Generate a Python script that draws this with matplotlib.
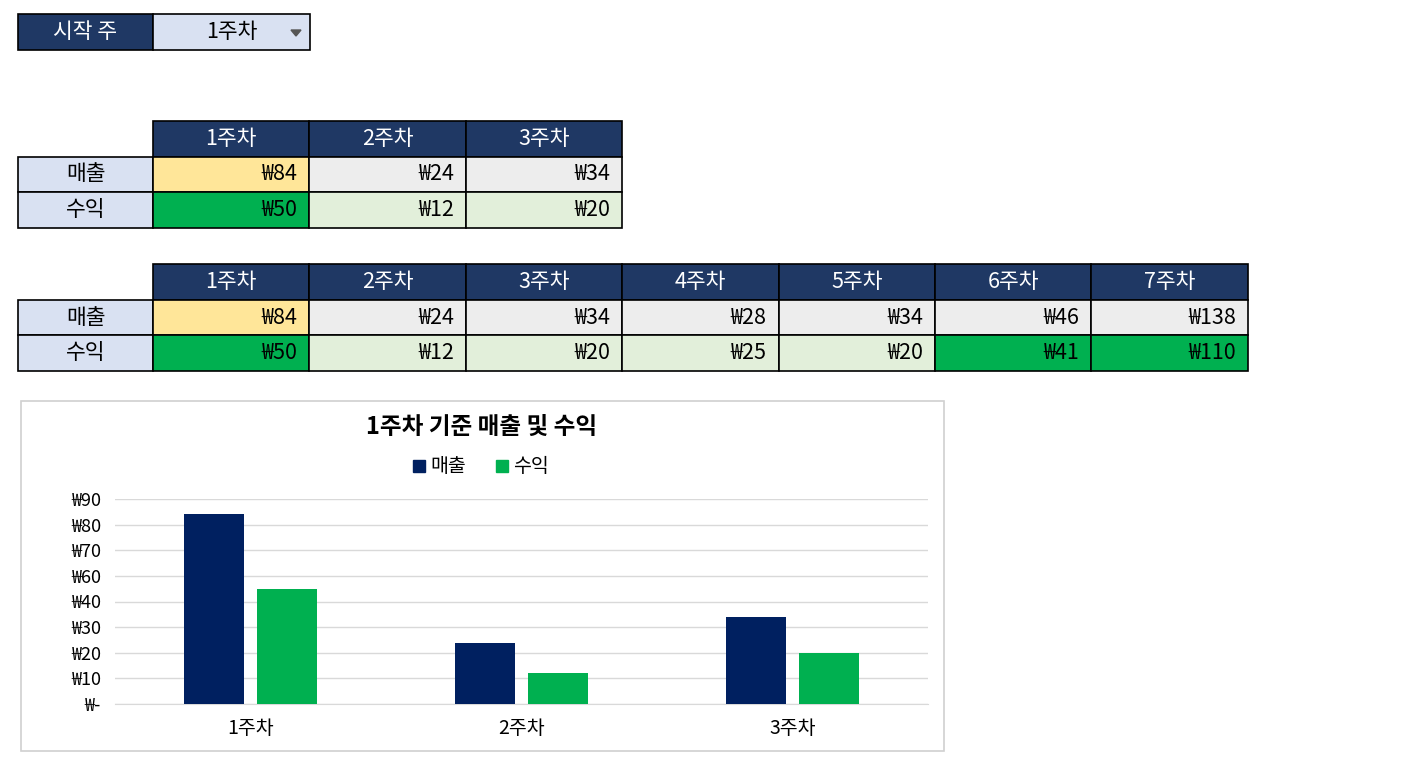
import numpy as np
import matplotlib.pyplot as plt
from matplotlib.patches import Rectangle, Polygon

plt.rcParams['font.family'] = ['Noto Sans CJK KR', 'DejaVu Sans']

# =========================
# DATA
# =========================
weeks = ["1주차", "2주차", "3주차", "4주차", "5주차", "6주차", "7주차"]
sales = [84, 24, 34, 28, 34, 46, 138]
profit = [50, 12, 20, 25, 20, 41, 110]
start_week = "1주차"
n_shown = 3
chart_title = "1주차 기준 매출 및 수익"
tick_vals = [0, 10, 20, 30, 40, 60, 70, 80, 90]
tick_labels = ["₩-", "₩10", "₩20", "₩30", "₩40", "₩60", "₩70", "₩80", "₩90"]

NAVY = "#1F3864"
LAVENDER = "#D9E1F2"
YELLOW = "#FFE699"
GREY = "#EDEDED"
LIGHT_GREEN = "#E2EFDA"
GREEN = "#00B050"
BAR_NAVY = "#002060"

fig = plt.figure(figsize=(14.08, 7.68), dpi=100)
bg = fig.add_axes([0, 0, 1, 1])
bg.set_xlim(0, 1408)
bg.set_ylim(768, 0)
bg.axis("off")


def cell(x0, x1, y0, y1, color, text="", tcolor="black", align="center"):
    bg.add_patch(Rectangle((x0, y0), x1 - x0, y1 - y0, facecolor=color,
                           edgecolor="black", linewidth=1.2))
    if align == "right":
        bg.text(x1 - 12, (y0 + y1) / 2, text, ha="right", va="center",
                fontsize=15.5, color=tcolor)
    else:
        bg.text((x0 + x1) / 2, (y0 + y1) / 2, text, ha="center", va="center",
                fontsize=15.5, color=tcolor)


# dropdown
cell(18, 153, 14, 50, NAVY, "시작 주", "white")
cell(153, 310, 14, 50, LAVENDER, start_week)
bg.add_patch(Polygon([[291, 30], [301, 30], [296, 36]], color="#555555"))

col_x = [153 + i * 156.4 for i in range(len(weeks) + 1)]


def table(n, y0):
    rows = [y0, y0 + 36, y0 + 71, y0 + 107]
    for i in range(n):
        cell(col_x[i], col_x[i + 1], rows[0], rows[1], NAVY, weeks[i], "white")
    cell(18, 153, rows[1], rows[2], LAVENDER, "매출")
    cell(18, 153, rows[2], rows[3], LAVENDER, "수익")
    for i in range(n):
        cell(col_x[i], col_x[i + 1], rows[1], rows[2],
             YELLOW if i == 0 else GREY, f"₩{sales[i]}", align="right")
        cell(col_x[i], col_x[i + 1], rows[2], rows[3],
             GREEN if profit[i] > 40 else LIGHT_GREEN, f"₩{profit[i]}", align="right")


table(n_shown, 121)
table(len(weeks), 264)

# chart frame
bg.add_patch(Rectangle((21, 401), 923, 350, facecolor="white",
                       edgecolor="#D0D0D0", linewidth=1.2))
bg.text(482, 427, chart_title, ha="center", va="center", fontsize=17, fontweight="bold")
bg.add_patch(Rectangle((413, 460), 12, 12, color=BAR_NAVY))
bg.text(430, 466, "매출", ha="left", va="center", fontsize=14)
bg.add_patch(Rectangle((496, 460), 12, 12, color=GREEN))
bg.text(513, 466, "수익", ha="left", va="center", fontsize=14)

# =========================
# BAR CHART
# =========================
pos = np.arange(len(tick_vals))


def fwd(v):
    return np.interp(v, tick_vals, pos, right=np.nan)


def inv(p):
    return np.interp(p, pos, tick_vals)


ax = fig.add_axes([115 / 1408, 1 - 704 / 768, 813 / 1408, 205 / 768])
x = np.arange(n_shown)
w = 0.22
ax.bar(x - 0.135, sales[:n_shown], w, color=BAR_NAVY, zorder=3)
ax.bar(x + 0.135, profit[:n_shown], w, color=GREEN, zorder=3)
ax.set_yscale("function", functions=(fwd, inv))
ax.set_ylim(0, 90)
ax.set_yticks(tick_vals)
ax.set_yticklabels(tick_labels, fontsize=13)
ax.set_xlim(-0.5, n_shown - 0.5)
ax.set_xticks(x)
ax.set_xticklabels(weeks[:n_shown], fontsize=14)
ax.grid(axis="y", color="#D9D9D9", linewidth=1, zorder=0)
for s in ["top", "right", "left"]:
    ax.spines[s].set_visible(False)
ax.spines["bottom"].set_color("#D9D9D9")
ax.tick_params(length=0, pad=10)
ax.patch.set_alpha(0)

fig.savefig("out.png", dpi=100)
